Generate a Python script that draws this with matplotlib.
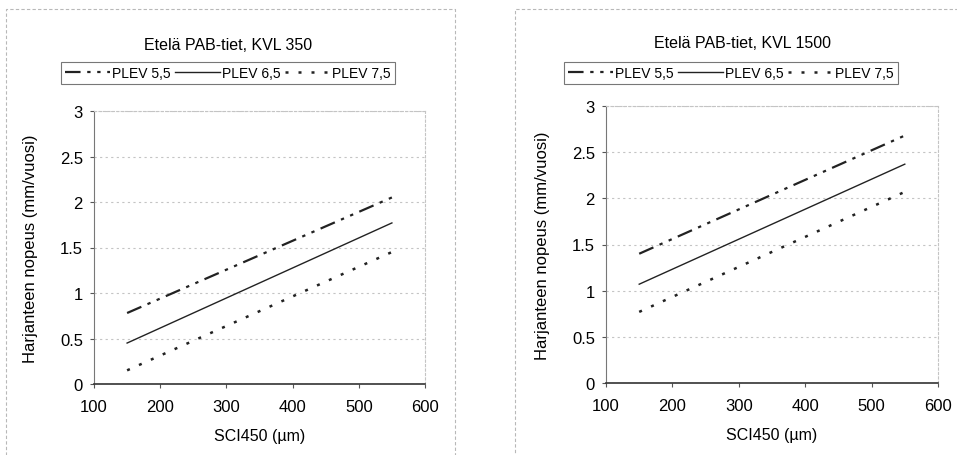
import matplotlib.pyplot as plt
from matplotlib.patches import Rectangle

plt.rcParams['font.family'] = ['Liberation Sans', 'DejaVu Sans']

# SCI450 (um) end points of the fitted lines
sci = [150, 550]

# left panel: Etelä PAB-tiet, KVL 350
kvl350_plev55 = [0.78, 2.05]
kvl350_plev65 = [0.45, 1.77]
kvl350_plev75 = [0.15, 1.45]

# right panel: Etelä PAB-tiet, KVL 1500
kvl1500_plev55 = [1.40, 2.68]
kvl1500_plev65 = [1.07, 2.37]
kvl1500_plev75 = [0.77, 2.07]

labels = ['PLEV 5,5', 'PLEV 6,5', 'PLEV 7,5']
titles = ['Etelä PAB-tiet, KVL 350', 'Etelä PAB-tiet, KVL 1500']

W, H = 957, 456
fig = plt.figure(figsize=(W / 100, H / 100), dpi=100)


def px(x, y):
    return x / W, 1 - y / H


# outer chart frames
for x0, x1 in [(6, 455), (515, 960)]:
    fig.patches.append(Rectangle((x0 / W, -0.01), (x1 - x0) / W, 1 - 10 / H + 0.01,
                                 transform=fig.transFigure, fill=False,
                                 edgecolor='#b8b8b8', linewidth=0.8, linestyle=(0, (3, 2))))

styles = [dict(color='#222222', lw=1.6, ls=(0, (7, 3, 1.5, 3, 1.5, 3))),
          dict(color='#222222', lw=1.0, ls='-'),
          dict(color='#222222', lw=1.8, ls=(0, (1.2, 4)))]

panels = [
    (kvl350_plev55, kvl350_plev65, kvl350_plev75, (94, 112, 425, 385), (228, 45), (228, 74), 38),
    (kvl1500_plev55, kvl1500_plev65, kvl1500_plev75, (606, 107, 938, 384), (743, 43), (731, 74), 550),
]

for i, (s55, s65, s75, box, tpos, lpos, ylx) in enumerate(panels):
    x0, y0, x1, y1 = box
    ax = fig.add_axes([x0 / W, 1 - y1 / H, (x1 - x0) / W, (y1 - y0) / H])
    handles = []
    for series, st in zip([s55, s65, s75], styles):
        h, = ax.plot(sci, series, **st)
        handles.append(h)
    ax.set_xlim(100, 600)
    ax.set_ylim(0, 3)
    ax.set_xticks([100, 200, 300, 400, 500, 600])
    ax.set_yticks([0, 0.5, 1, 1.5, 2, 2.5, 3])
    ax.set_yticklabels(['0', '0.5', '1', '1.5', '2', '2.5', '3'])
    ax.grid(axis='y', color='#c4c4c4', linestyle=(0, (2, 3)), linewidth=0.8)
    for side in ['top', 'right']:
        ax.spines[side].set_color('#c4c4c4')
        ax.spines[side].set_linestyle((0, (2, 2)))
        ax.spines[side].set_linewidth(0.8)
    ax.spines['left'].set_color('#777777')
    ax.spines['bottom'].set_color('#333333')
    ax.spines['bottom'].set_linewidth(1.2)
    ax.tick_params(axis='both', labelsize=12, length=3, color='#555555', pad=5)
    ax.tick_params(axis='x', pad=8)
    ax.set_xlabel('SCI450 (µm)', fontsize=11.5, labelpad=10)
    ax.set_ylabel('Harjanteen nopeus (mm/vuosi)', fontsize=12)
    ax.yaxis.set_label_coords((ylx - x0) / (x1 - x0), 0.5)

    fig.text(*px(*tpos), titles[i], ha='center', va='center', fontsize=11.5)
    leg = fig.legend(handles, labels, loc='center', bbox_to_anchor=px(*lpos), ncol=3,
                     fontsize=10, frameon=True, fancybox=False, handlelength=3.2,
                     handletextpad=0.2, columnspacing=0.3, borderpad=0.3)
    leg.get_frame().set_edgecolor('#555555')
    leg.get_frame().set_linewidth(0.8)

fig.savefig('out.png', dpi=100)
